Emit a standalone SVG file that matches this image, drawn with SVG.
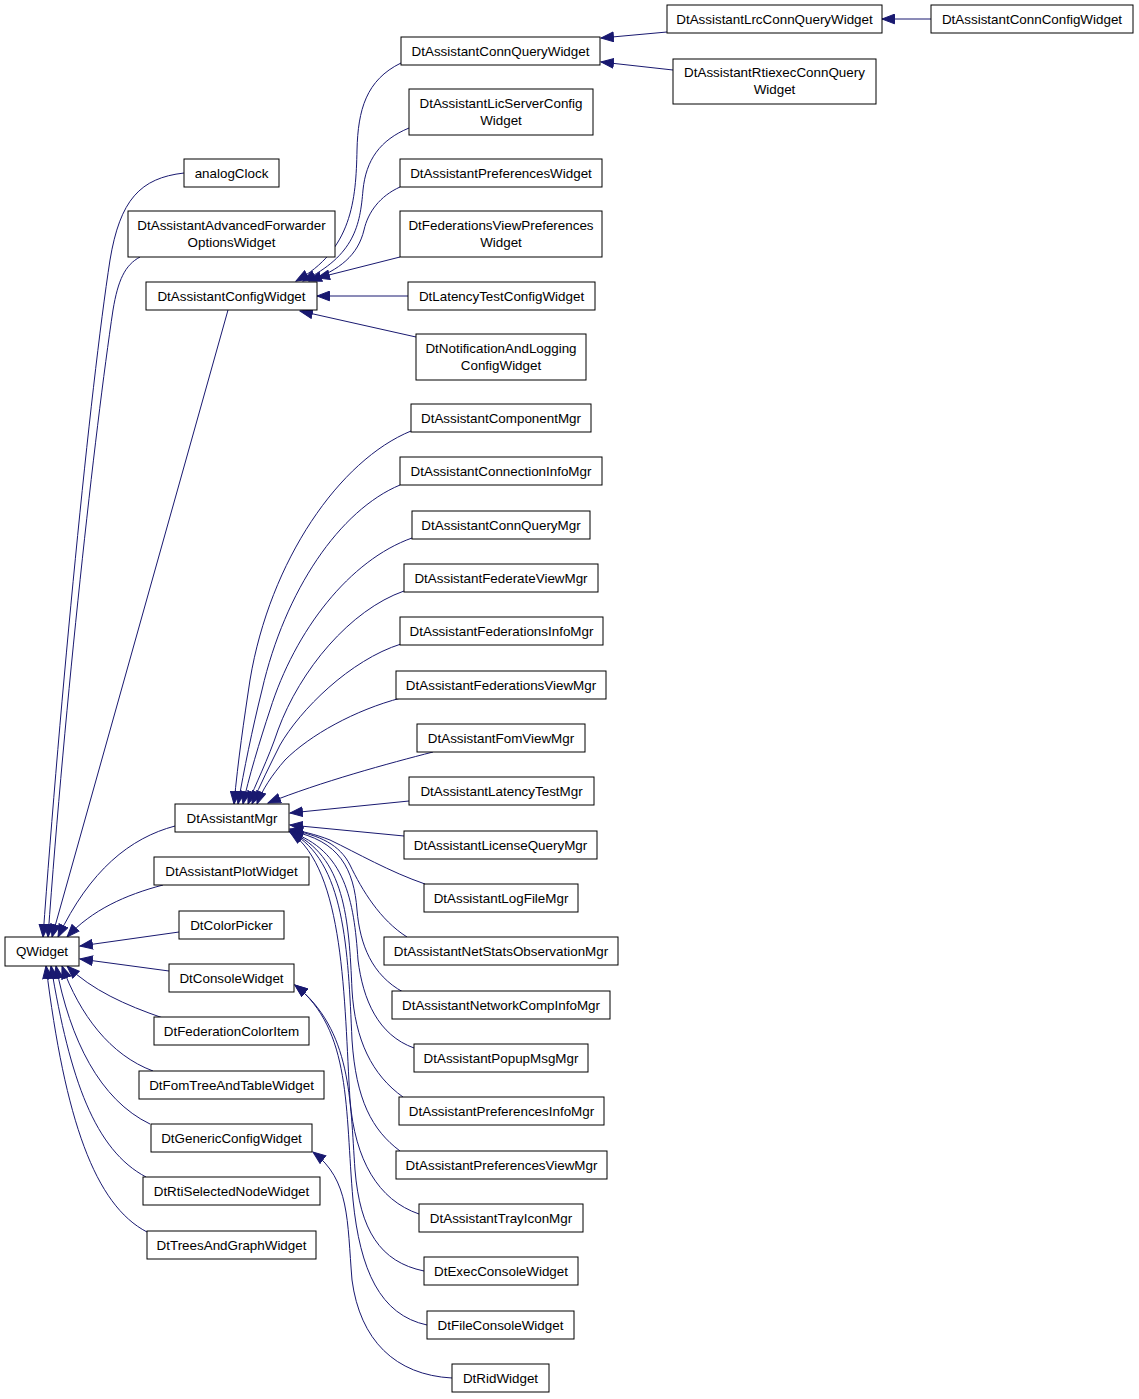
<svg xmlns="http://www.w3.org/2000/svg" width="1139" height="1399" viewBox="0 0 1139 1399">
<style>
.n rect{fill:#fff;stroke:#000;stroke-width:1}
.n text{font-family:"Liberation Sans",Arial,Helvetica,sans-serif;font-size:13.4px;text-anchor:middle;fill:#000}
.e{fill:none;stroke:#191970;stroke-width:1;marker-end:url(#ah)}
</style>
<defs>
<marker id="ah" markerUnits="userSpaceOnUse" markerWidth="14" markerHeight="11" refX="13" refY="5.5" orient="auto" viewBox="0 0 14 11">
<path d="M0.5,0.7 L13,5.5 L0.5,10.3 z" fill="#191970" stroke="#191970" stroke-width="1"/>
</marker>
</defs>
<rect width="1139" height="1399" fill="#fff"/>
<g id="edges">
<path class="e" d="M184,173 C140,178 120,200 110,260 C90,390 60,700 43,937"/>
<path class="e" d="M140,257 C125,265 118,280 113,310 C95,430 65,700 48,937"/>
<path class="e" d="M228,310 L52,937"/>
<path class="e" d="M175,826 C130,838 90,870 58,937"/>
<path class="e" d="M163,885 C125,895 92,910 67,937"/>
<path class="e" d="M179,932 L80,946"/>
<path class="e" d="M169,971 L80,959"/>
<path class="e" d="M163,1018 C125,1005 92,990 67,966"/>
<path class="e" d="M153,1071 C110,1055 80,1015 62,966"/>
<path class="e" d="M150,1124 C100,1100 70,1040 56,966"/>
<path class="e" d="M146,1177 C95,1150 70,1080 51,966"/>
<path class="e" d="M147,1232 C95,1205 65,1120 46,966"/>
<path class="e" d="M401,63 C366,80 358,110 357,150 C356,200 352,250 296,281"/>
<path class="e" d="M409,128 C380,140 366,160 363,190 C360,225 355,255 303,281"/>
<path class="e" d="M400,187 C380,196 368,212 364,230 C358,255 340,270 309,281"/>
<path class="e" d="M400,257 L317,278"/>
<path class="e" d="M408,296 L317,296"/>
<path class="e" d="M416,337 L300,311"/>
<path class="e" d="M667,32 L601,38"/>
<path class="e" d="M673,70 L601,62"/>
<path class="e" d="M931,19 L882,19"/>
<path class="e" d="M411,431 C340,460 270,560 250,680 C244,720 238,760 234,804"/>
<path class="e" d="M400,485 C340,510 285,590 262,690 C252,730 244,770 238,804"/>
<path class="e" d="M412,538 C350,560 295,630 270,710 C260,740 248,780 243,804"/>
<path class="e" d="M404,591 C350,610 300,670 278,730 C268,760 255,785 248,804"/>
<path class="e" d="M401,644 C350,660 300,710 280,745 C270,765 260,785 252,804"/>
<path class="e" d="M401,698 C355,710 310,735 285,760 C272,775 262,790 257,804"/>
<path class="e" d="M433,752 C390,763 320,782 268,803"/>
<path class="e" d="M409,801 L290,813"/>
<path class="e" d="M404,836 L290,825"/>
<path class="e" d="M425,884 C390,872 357,853 330,840 C315,834 300,831 290,829"/>
<path class="e" d="M407,937 C380,920 362,890 350,865 C340,845 320,835 290,830"/>
<path class="e" d="M403,992 C372,975 360,945 357,910 C354,870 340,840 290,831"/>
<path class="e" d="M414,1048 C378,1035 363,1000 358,960 C354,900 345,850 290,832"/>
<path class="e" d="M403,1097 C372,1075 355,1040 352,990 C349,920 345,855 290,832"/>
<path class="e" d="M400,1151 C372,1130 356,1100 352,1040 C348,950 345,860 290,832"/>
<path class="e" d="M419,1214 C378,1200 355,1160 350,1100 C344,1000 345,870 290,832"/>
<path class="e" d="M424,1271 C380,1262 360,1230 355,1170 C350,1100 352,1030 295,985"/>
<path class="e" d="M427,1325 C380,1315 360,1270 353,1200 C345,1110 352,1030 295,985"/>
<path class="e" d="M452,1378 C395,1375 360,1340 352,1280 C347,1220 350,1180 313,1152"/>
</g>

<g id="n-QWidget" class="n"><rect x="5" y="937" width="74" height="29"/><text x="42" y="956">QWidget</text></g>

<g id="n-analogClock" class="n"><rect x="184" y="159" width="95" height="28"/><text x="231.5" y="177.5">analogClock</text></g>
<g id="n-DtAssistantAdvancedForwarderOptionsWidget" class="n"><rect x="128" y="211" width="207" height="46"/><text x="231.5" y="229.5">DtAssistantAdvancedForwarder</text><text x="231.5" y="246.5">OptionsWidget</text></g>
<g id="n-DtAssistantConfigWidget" class="n"><rect x="146" y="282" width="171" height="28"/><text x="231.5" y="300.5">DtAssistantConfigWidget</text></g>
<g id="n-DtAssistantMgr" class="n"><rect x="175" y="804" width="114" height="28"/><text x="232" y="822.5">DtAssistantMgr</text></g>
<g id="n-DtAssistantPlotWidget" class="n"><rect x="154" y="857" width="155" height="28"/><text x="231.5" y="875.5">DtAssistantPlotWidget</text></g>
<g id="n-DtColorPicker" class="n"><rect x="179" y="911" width="105" height="28"/><text x="231.5" y="929.5">DtColorPicker</text></g>
<g id="n-DtConsoleWidget" class="n"><rect x="169" y="964" width="125" height="28"/><text x="231.5" y="982.5">DtConsoleWidget</text></g>
<g id="n-DtFederationColorItem" class="n"><rect x="154" y="1017" width="155" height="28"/><text x="231.5" y="1035.5">DtFederationColorItem</text></g>
<g id="n-DtFomTreeAndTableWidget" class="n"><rect x="139" y="1071" width="185" height="28"/><text x="231.5" y="1089.5">DtFomTreeAndTableWidget</text></g>
<g id="n-DtGenericConfigWidget" class="n"><rect x="151" y="1124" width="161" height="28"/><text x="231.5" y="1142.5">DtGenericConfigWidget</text></g>
<g id="n-DtRtiSelectedNodeWidget" class="n"><rect x="143" y="1177" width="177" height="28"/><text x="231.5" y="1195.5">DtRtiSelectedNodeWidget</text></g>
<g id="n-DtTreesAndGraphWidget" class="n"><rect x="147" y="1231" width="169" height="28"/><text x="231.5" y="1249.5">DtTreesAndGraphWidget</text></g>

<g id="n-DtAssistantConnQueryWidget" class="n"><rect x="401" y="37" width="199" height="28"/><text x="500.5" y="55.5">DtAssistantConnQueryWidget</text></g>
<g id="n-DtAssistantLicServerConfigWidget" class="n"><rect x="409" y="89" width="184" height="46"/><text x="501" y="107.5">DtAssistantLicServerConfig</text><text x="501" y="124.5">Widget</text></g>
<g id="n-DtAssistantPreferencesWidget" class="n"><rect x="400" y="159" width="202" height="28"/><text x="501" y="177.5">DtAssistantPreferencesWidget</text></g>
<g id="n-DtFederationsViewPreferencesWidget" class="n"><rect x="400" y="211" width="202" height="46"/><text x="501" y="229.5">DtFederationsViewPreferences</text><text x="501" y="246.5">Widget</text></g>
<g id="n-DtLatencyTestConfigWidget" class="n"><rect x="408" y="282" width="187" height="28"/><text x="501.5" y="300.5">DtLatencyTestConfigWidget</text></g>
<g id="n-DtNotificationAndLoggingConfigWidget" class="n"><rect x="416" y="334" width="170" height="46"/><text x="501" y="352.5">DtNotificationAndLogging</text><text x="501" y="369.5">ConfigWidget</text></g>
<g id="n-DtAssistantComponentMgr" class="n"><rect x="411" y="404" width="180" height="28"/><text x="501" y="422.5">DtAssistantComponentMgr</text></g>
<g id="n-DtAssistantConnectionInfoMgr" class="n"><rect x="400" y="457" width="202" height="28"/><text x="501" y="475.5">DtAssistantConnectionInfoMgr</text></g>
<g id="n-DtAssistantConnQueryMgr" class="n"><rect x="412" y="511" width="178" height="28"/><text x="501" y="529.5">DtAssistantConnQueryMgr</text></g>
<g id="n-DtAssistantFederateViewMgr" class="n"><rect x="404" y="564" width="194" height="28"/><text x="501" y="582.5">DtAssistantFederateViewMgr</text></g>
<g id="n-DtAssistantFederationsInfoMgr" class="n"><rect x="400" y="617" width="203" height="28"/><text x="501.5" y="635.5">DtAssistantFederationsInfoMgr</text></g>
<g id="n-DtAssistantFederationsViewMgr" class="n"><rect x="396" y="671" width="210" height="28"/><text x="501" y="689.5">DtAssistantFederationsViewMgr</text></g>
<g id="n-DtAssistantFomViewMgr" class="n"><rect x="417" y="724" width="168" height="28"/><text x="501" y="742.5">DtAssistantFomViewMgr</text></g>
<g id="n-DtAssistantLatencyTestMgr" class="n"><rect x="409" y="777" width="185" height="28"/><text x="501.5" y="795.5">DtAssistantLatencyTestMgr</text></g>
<g id="n-DtAssistantLicenseQueryMgr" class="n"><rect x="404" y="831" width="193" height="28"/><text x="500.5" y="849.5">DtAssistantLicenseQueryMgr</text></g>
<g id="n-DtAssistantLogFileMgr" class="n"><rect x="424" y="884" width="154" height="28"/><text x="501" y="902.5">DtAssistantLogFileMgr</text></g>
<g id="n-DtAssistantNetStatsObservationMgr" class="n"><rect x="384" y="937" width="234" height="28"/><text x="501" y="955.5">DtAssistantNetStatsObservationMgr</text></g>
<g id="n-DtAssistantNetworkCompInfoMgr" class="n"><rect x="392" y="991" width="218" height="28"/><text x="501" y="1009.5">DtAssistantNetworkCompInfoMgr</text></g>
<g id="n-DtAssistantPopupMsgMgr" class="n"><rect x="414" y="1044" width="174" height="28"/><text x="501" y="1062.5">DtAssistantPopupMsgMgr</text></g>
<g id="n-DtAssistantPreferencesInfoMgr" class="n"><rect x="399" y="1097" width="205" height="28"/><text x="501.5" y="1115.5">DtAssistantPreferencesInfoMgr</text></g>
<g id="n-DtAssistantPreferencesViewMgr" class="n"><rect x="396" y="1151" width="211" height="28"/><text x="501.5" y="1169.5">DtAssistantPreferencesViewMgr</text></g>
<g id="n-DtAssistantTrayIconMgr" class="n"><rect x="419" y="1204" width="164" height="28"/><text x="501" y="1222.5">DtAssistantTrayIconMgr</text></g>
<g id="n-DtExecConsoleWidget" class="n"><rect x="424" y="1257" width="154" height="28"/><text x="501" y="1275.5">DtExecConsoleWidget</text></g>
<g id="n-DtFileConsoleWidget" class="n"><rect x="427" y="1311" width="147" height="28"/><text x="500.5" y="1329.5">DtFileConsoleWidget</text></g>
<g id="n-DtRidWidget" class="n"><rect x="452" y="1364" width="97" height="28"/><text x="500.5" y="1382.5">DtRidWidget</text></g>

<g id="n-DtAssistantLrcConnQueryWidget" class="n"><rect x="667" y="5" width="215" height="28"/><text x="774.5" y="23.5">DtAssistantLrcConnQueryWidget</text></g>
<g id="n-DtAssistantRtiexecConnQueryWidget" class="n"><rect x="673" y="59" width="203" height="45"/><text x="774.5" y="76.5">DtAssistantRtiexecConnQuery</text><text x="774.5" y="93.5">Widget</text></g>
<g id="n-DtAssistantConnConfigWidget" class="n"><rect x="931" y="5" width="202" height="28"/><text x="1032" y="23.5">DtAssistantConnConfigWidget</text></g>
</svg>
